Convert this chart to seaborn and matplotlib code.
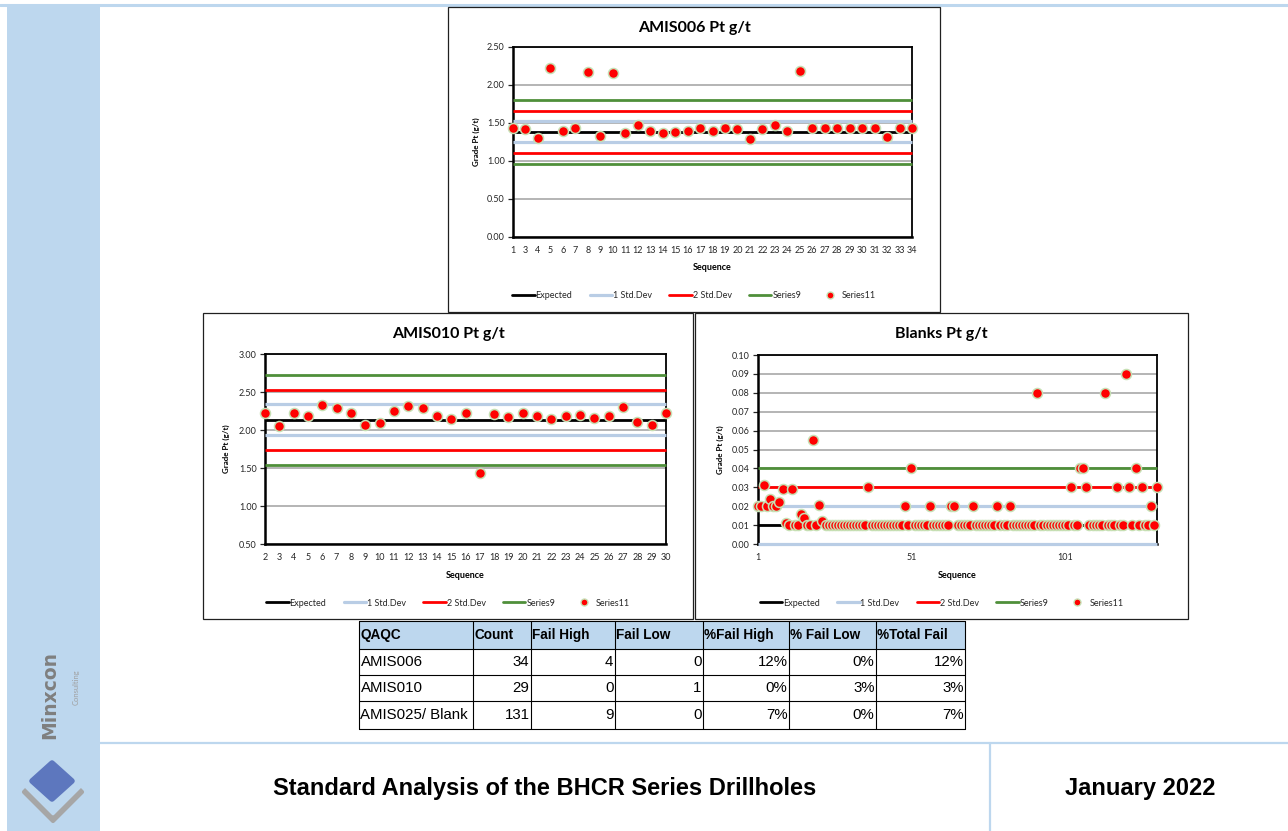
import matplotlib
matplotlib.use("Agg")
import matplotlib.pyplot as plt
import numpy as np
import seaborn as sns
from matplotlib.lines import Line2D
from matplotlib.patches import Rectangle, Polygon
from matplotlib.ticker import FormatStrFormatter

sns.set_theme(style="white")
plt.rcParams["font.family"] = ["Lato", "DejaVu Sans"]

W, H, DPI = 1288, 831, 100

# ---------------- data ----------------
# AMIS006 certified standard (Pt g/t)
amis006_seq = ["1", "3", "4", "5", "6", "7", "8", "9", "10", "11", "12", "13", "14",
               "15", "16", "17", "18", "19", "20", "21", "22", "23", "24", "25", "26",
               "27", "28", "29", "30", "31", "32", "33", "34"]
amis006_pt = [1.43, 1.42, 1.30, 2.23, 1.40, 1.43, 2.17, 1.33, 2.16, 1.37, 1.47, 1.39,
              1.37, 1.38, 1.40, 1.43, 1.40, 1.43, 1.42, 1.29, 1.42, 1.47, 1.40, 2.18,
              1.43, 1.43, 1.435, 1.43, 1.435, 1.43, 1.31, 1.43, 1.435]
amis006_expected = 1.38
amis006_sd1 = [1.25, 1.52]
amis006_sd2 = [1.11, 1.66]
amis006_series9 = [0.96, 1.80]

# AMIS010 certified standard (Pt g/t)
amis010_seq = [str(s) for s in range(2, 31)]
amis010_pt = [2.23, 2.05, 2.23, 2.19, 2.33, 2.29, 2.22, 2.07, 2.09, 2.25, 2.31, 2.285,
              2.18, 2.15, 2.22, 1.43, 2.21, 2.17, 2.22, 2.18, 2.145, 2.18, 2.20, 2.16,
              2.18, 2.30, 2.11, 2.07, 2.22]
amis010_expected = 2.13
amis010_sd1 = [1.93, 2.34]
amis010_sd2 = [1.74, 2.53]
amis010_series9 = [1.54, 2.73]

# Blanks (Pt g/t)
blank_seq = [str(s) for s in range(1, 132)]
blank_pt = [
    0.020, 0.020, 0.031, 0.020, 0.024, 0.020, 0.020, 0.022, 0.029, 0.011,
    0.010, 0.029, 0.010, 0.010, 0.016, 0.0135, 0.010, 0.010, 0.055, 0.010,
    0.0205, 0.012, 0.010, 0.010, 0.010, 0.010, 0.010, 0.010, 0.010, 0.010,
    0.010, 0.010, 0.010, 0.010, 0.010, 0.010, 0.030, 0.010, 0.010, 0.010,
    0.010, 0.010, 0.010, 0.010, 0.010, 0.010, 0.010, 0.010, 0.020, 0.010,
    0.040, 0.010, 0.010, 0.010, 0.010, 0.010, 0.020, 0.010, 0.010, 0.010,
    0.010, 0.010, 0.010, 0.020, 0.020, 0.010, 0.010, 0.010, 0.010, 0.010,
    0.020, 0.010, 0.010, 0.010, 0.010, 0.010, 0.010, 0.010, 0.020, 0.010,
    0.010, 0.010, 0.020, 0.010, 0.010, 0.010, 0.010, 0.010, 0.010, 0.010,
    0.010, 0.080, 0.010, 0.010, 0.010, 0.010, 0.010, 0.010, 0.010, 0.010,
    0.010, 0.010, 0.030, 0.010, 0.010, 0.040, 0.040, 0.030, 0.010, 0.010,
    0.010, 0.010, 0.010, 0.080, 0.010, 0.010, 0.010, 0.030, 0.010, 0.010,
    0.090, 0.030, 0.010, 0.040, 0.010, 0.030, 0.010, 0.010, 0.020, 0.010,
    0.030,
]
blank_expected = 0.01
blank_sd1 = [0.00, 0.02]
blank_sd2 = [-0.01, 0.03]
blank_series9 = [-0.02, 0.04]

# QAQC summary table
table_header = ["QAQC", "Count", "Fail High", "Fail Low", "%Fail High", "% Fail Low", "%Total Fail"]
qaqc_names = ["AMIS006", "AMIS010", "AMIS025/ Blank"]
qaqc_count = [34, 29, 131]
qaqc_fail_high = [4, 0, 9]
qaqc_fail_low = [0, 1, 0]
pct_fail_high = ["12%", "0%", "7%"]
pct_fail_low = ["0%", "3%", "0%"]
pct_total_fail = ["12%", "3%", "7%"]

legend_labels = ["Expected", "1 Std.Dev", "2 Std.Dev", "Series9", "Series11"]

# ---------------- styling ----------------
SIDEBAR = "#BDD7EE"
LINE_STYLE = {
    "expected": dict(color="black", lw=2.0),
    "sd1": dict(color="#B9CDE5", lw=2.3),
    "sd2": dict(color="#FF0000", lw=2.0),
    "series9": dict(color="#4F8F3A", lw=2.0),
}
PT_FACE = "#FF0000"
PT_EDGE = "#C6E0B4"

fig = plt.figure(figsize=(W / DPI, H / DPI), dpi=DPI, facecolor="white")

# page-level drawing layer in pixel coordinates
base = fig.add_axes([0, 0, 1, 1], zorder=0)
base.set_xlim(0, W)
base.set_ylim(H, 0)
base.axis("off")


def fx(x):
    return x / W


def fy(y):
    return 1 - y / H


def chart(box, plot, title, labels, values, limits, ylim, ystep, tick_idx, ylab_x):
    bx0, by0, bx1, by1 = box
    base.add_patch(Rectangle((bx0, by0), bx1 - bx0, by1 - by0, fc="white",
                             ec="#202020", lw=0.9, zorder=1))
    px0, py0, px1, py1 = plot
    ax = fig.add_axes([fx(px0), fy(py1), (px1 - px0) / W, (py1 - py0) / H], zorder=2)
    n = len(values)
    pos = np.arange(n)
    span = [0, n - 1]
    for key in ["expected", "sd1", "sd2", "series9"]:
        for level in np.atleast_1d(limits[key]):
            sns.lineplot(x=span, y=[level, level], ax=ax, legend=False, zorder=3,
                         **LINE_STYLE[key])
            ln = ax.lines[-1]
            ln.set_solid_capstyle("butt")
            ln.set_clip_on(not (ylim[0] <= level <= ylim[1]))
    sns.scatterplot(x=pos, y=values, ax=ax, color=PT_FACE, edgecolor=PT_EDGE,
                    linewidth=1.1, s=52, zorder=4, clip_on=False, legend=False)
    ax.set_xlim(0, n - 1)
    ax.set_ylim(*ylim)
    ax.set_yticks(np.arange(ylim[0], ylim[1] + ystep / 2, ystep))
    ax.yaxis.set_major_formatter(FormatStrFormatter("%.2f"))
    ax.set_xticks(tick_idx)
    ax.set_xticklabels([labels[i] for i in tick_idx])
    ax.tick_params(axis="y", left=True, length=3.5, width=0.9, direction="out",
                   pad=2.5, labelsize=6.5, labelcolor="#262626", color="#262626")
    ax.tick_params(axis="x", bottom=False, length=0, pad=6.5, labelsize=6.5,
                   labelcolor="#262626")
    ax.grid(axis="y", color="#A0A0A0", lw=1.1)
    ax.grid(axis="x", visible=False)
    ax.set_axisbelow(True)
    for name, sp in ax.spines.items():
        sp.set_color("black")
        sp.set_linewidth(1.8 if name in ("left", "bottom") else 1.3)
    ax.set_xlabel("")
    ax.set_ylabel("")

    cx = (bx0 + bx1) / 2
    fig.text(fx(cx), fy(by0 + 21), title, ha="center", va="center",
             fontsize=11.5, fontweight="bold", color="black")
    fig.text(fx((px0 + px1) / 2), fy(py1 + 31), "Sequence", ha="center", va="center",
             fontsize=6.5, fontweight="bold", color="black")
    fig.text(fx(ylab_x), fy((py0 + py1) / 2), "Grade Pt (g/t)", ha="center", va="center",
             rotation=90, fontsize=5.8, fontweight="bold", color="black")

    handles = [Line2D([], [], **LINE_STYLE[k]) for k in ["expected", "sd1", "sd2", "series9"]]
    handles.append(Line2D([], [], ls="", marker="o", ms=5, mfc=PT_FACE, mec=PT_EDGE, mew=1.0))
    fig.legend(handles, legend_labels, loc="center", bbox_to_anchor=(fx(cx), fy(by1 - 16)),
               ncol=5, frameon=False, fontsize=6.5, handlelength=2.5, handletextpad=0.1,
               columnspacing=1.9, borderaxespad=0, borderpad=0, labelcolor="#262626")
    return ax


# ---------------- page frame ----------------
base.add_patch(Rectangle((7, 5), 93, H - 5, fc=SIDEBAR, ec="none", zorder=0))
base.plot([0, W], [5, 5], color=SIDEBAR, lw=2.2, zorder=0)
base.plot([100, W], [743, 743], color=SIDEBAR, lw=1.6, zorder=0)
base.plot([990, 990], [743, H], color=SIDEBAR, lw=1.6, zorder=0)

# ---------------- charts ----------------
chart(box=(448, 7, 940, 312), plot=(513, 47, 912, 237), title="AMIS006 Pt g/t",
      labels=amis006_seq, values=amis006_pt,
      limits=dict(expected=amis006_expected, sd1=amis006_sd1, sd2=amis006_sd2,
                  series9=amis006_series9),
      ylim=(0.0, 2.5), ystep=0.5, tick_idx=list(range(len(amis006_seq))), ylab_x=476)

chart(box=(203, 313, 693, 619), plot=(265, 354, 666, 544), title="AMIS010 Pt g/t",
      labels=amis010_seq, values=amis010_pt,
      limits=dict(expected=amis010_expected, sd1=amis010_sd1, sd2=amis010_sd2,
                  series9=amis010_series9),
      ylim=(0.5, 3.0), ystep=0.5, tick_idx=list(range(len(amis010_seq))), ylab_x=226)

chart(box=(695, 313, 1188, 619), plot=(758, 355, 1157, 544), title="Blanks Pt g/t",
      labels=blank_seq, values=blank_pt,
      limits=dict(expected=blank_expected, sd1=blank_sd1, sd2=blank_sd2,
                  series9=blank_series9),
      ylim=(0.0, 0.10), ystep=0.01, tick_idx=[0, 50, 100], ylab_x=720)

# ---------------- summary table ----------------
col_x = [359, 473, 531, 615, 703, 789, 876, 965]
row_y = [621, 649, 675, 701, 729]
base.add_patch(Rectangle((col_x[0], row_y[0]), col_x[-1] - col_x[0], row_y[1] - row_y[0],
                         fc=SIDEBAR, ec="none", zorder=1))
for x in col_x:
    base.plot([x, x], [row_y[0], row_y[-1]], color="black", lw=0.8, zorder=2)
for y in row_y:
    base.plot([col_x[0], col_x[-1]], [y, y], color="black", lw=0.8, zorder=2)

TABLE_FONT = ["Liberation Sans", "DejaVu Sans"]
for j, head in enumerate(table_header):
    base.text(col_x[j] + 1.5, (row_y[0] + row_y[1]) / 2, head, ha="left", va="center",
              fontsize=9.8, fontweight="bold", family=TABLE_FONT, color="black", zorder=3)

rows = list(zip(qaqc_names, qaqc_count, qaqc_fail_high, qaqc_fail_low,
                pct_fail_high, pct_fail_low, pct_total_fail))
for i, row in enumerate(rows):
    yc = (row_y[i + 1] + row_y[i + 2]) / 2
    for j, val in enumerate(row):
        if j == 0:
            base.text(col_x[0] + 1.5, yc, str(val), ha="left", va="center",
                      fontsize=10.8, family=TABLE_FONT, color="black", zorder=3)
        else:
            base.text(col_x[j + 1] - 1.5, yc, str(val), ha="right", va="center",
                      fontsize=10.8, family=TABLE_FONT, color="black", zorder=3)

# ---------------- footer ----------------
base.text(545, 789, "Standard Analysis of the BHCR Series Drillholes", ha="center",
          va="center", fontsize=17, fontweight="bold", family=TABLE_FONT, color="black")
base.text(1140, 789, "January 2022", ha="center", va="center", fontsize=17,
          fontweight="bold", family=TABLE_FONT, color="black")

# ---------------- company mark ----------------
base.text(50, 695, "Minxcon", rotation=90, ha="center", va="center", fontsize=13.5,
          fontweight="bold", family=["DejaVu Sans"], color="#7F7F7F")
base.text(76, 687, "Consulting", rotation=90, ha="center", va="center", fontsize=5.5,
          color="#A0A0A0")
base.add_patch(Polygon([(24, 792), (53, 821), (82, 792), (53, 763)], closed=True,
                       fc="#A6A6A6", ec="#A6A6A6", lw=3, joinstyle="round", zorder=1))
base.add_patch(Polygon([(24, 785), (53, 814), (82, 785), (53, 756)], closed=True,
                       fc=SIDEBAR, ec=SIDEBAR, lw=2, joinstyle="round", zorder=2))
base.add_patch(Polygon([(32, 781), (52, 799), (72, 781), (52, 763)], closed=True,
                       fc="#5D77BE", ec="#5D77BE", lw=4, joinstyle="round", zorder=3))

fig.savefig("out.png", dpi=DPI, facecolor="white")
